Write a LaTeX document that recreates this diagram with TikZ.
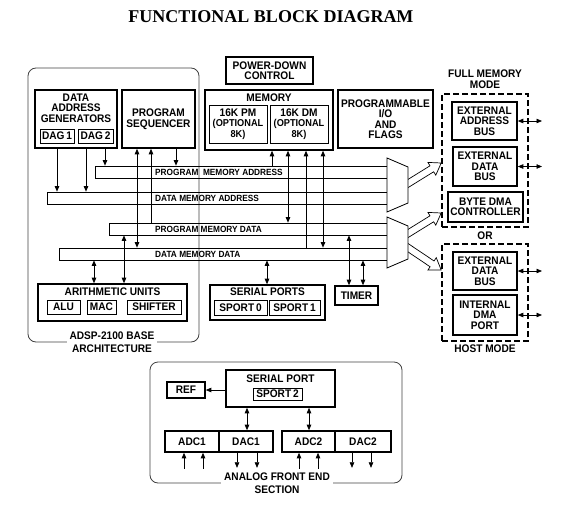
\documentclass[tikz,border=0pt]{standalone}
\usepackage{fontspec}
\setmainfont{Liberation Sans}[FakeStretch=0.92]
\newfontfamily\titlefont{Liberation Serif}
\usetikzlibrary{arrows.meta,calc}

\newcommand{\boxfont}{\fontsize{11}{10.5}\selectfont\bfseries}
\newcommand{\optfont}{\fontsize{10}{10.5}\selectfont\bfseries}
\newcommand{\buslabelfont}{\fontsize{9}{9}\selectfont\bfseries}

% hollow bus arrow from #1 to tip #2
\newcommand{\hollowarrow}[2]{%
  \coordinate (ha-s) at (#1);
  \coordinate (ha-t) at (#2);
  \coordinate (ha-h) at ($(ha-t)!11pt!(ha-s)$);
  \draw[line width=0.7pt, fill=white, line join=miter]
    ($(ha-s)!3.5pt!90:(ha-t)$) -- ($(ha-h)!3.5pt!-90:(ha-s)$) -- ($(ha-h)!7.5pt!-90:(ha-s)$)
    -- (ha-t) -- ($(ha-h)!7.5pt!90:(ha-s)$) -- ($(ha-h)!3.5pt!90:(ha-s)$)
    -- ($(ha-s)!3.5pt!-90:(ha-t)$) -- cycle;}

\tikzset{
  blk/.style={draw, line width=1.6pt, inner sep=0pt, align=center, font=\boxfont},
  sub/.style={draw, line width=0.8pt, inner sep=0pt, align=center, font=\boxfont},
  bus/.style={draw, line width=0.7pt, inner sep=0pt},
  dashbox/.style={draw, line width=1.6pt, dash pattern=on 6pt off 3pt, inner sep=0pt},
  lbl/.style={font=\boxfont, align=center, inner sep=0pt},
  framelbl/.style={font=\fontsize{11}{12.7}\selectfont\bfseries, align=center, fill=white, inner xsep=3pt, inner ysep=0pt},
  buslbl/.style={font=\buslabelfont, anchor=west, inner sep=0pt},
  frame/.style={draw=black!75, line width=0.8pt, rounded corners=8pt},
  mux/.style={draw, line width=0.8pt, fill=white},
  arr/.style={-{Triangle[length=5.5pt,width=4.5pt]}, line width=0.7pt},
  biarr/.style={{Triangle[length=5.5pt,width=4.5pt]}-{Triangle[length=5.5pt,width=4.5pt]}, line width=0.7pt},
}

\begin{document}
\begin{tikzpicture}[x=1pt,y=-1pt]
  \useasboundingbox (0,0) rectangle (568,525);
  %% Title
  \node[font=\fontsize{18}{20}\selectfont\titlefont\bfseries] (title) at (271,16.5) {FUNCTIONAL BLOCK DIAGRAM};

  %% Base architecture frame
  \draw[frame] (28,68) rectangle (199,342);
  \node[framelbl] (baselbl) at (112,342.5) {ADSP-2100 BASE\\ARCHITECTURE};

  %% Top row
  \node[blk, minimum width=82pt, minimum height=58pt] (dag) at (76,119) {};
  \node[lbl] (dagtitle) at (76,108) {DATA\\ADDRESS\\GENERATORS};
  \node[sub, minimum width=34pt, minimum height=14pt] (dag1) at (57,136) {DAG\,1};
  \node[sub, minimum width=35pt, minimum height=14pt] (dag2) at (95.5,136) {DAG\,2};
  \node[blk, minimum width=73pt, minimum height=58pt] (seq) at (158.5,119) {PROGRAM\\SEQUENCER};
  \node[blk, minimum width=87pt, minimum height=27pt] (pdc) at (269.5,70.5) {POWER-DOWN\\CONTROL};
  \node[blk, minimum width=128pt, minimum height=60pt] (mem) at (269,120) {};
  \node[lbl] (memtitle) at (269,98) {MEMORY};
  \node[sub, minimum width=58pt, minimum height=38pt] (pm) at (238,124) {16K PM\\{\optfont(OPTIONAL}\\{\optfont 8K)}};
  \node[sub, minimum width=58pt, minimum height=38pt] (dm) at (299,124) {16K DM\\{\optfont(OPTIONAL}\\{\optfont 8K)}};
  \node[blk, minimum width=95pt, minimum height=58pt] (pio) at (385.5,119) {PROGRAMMABLE\\I/O\\AND\\FLAGS};

  %% Full memory mode
  \node[lbl, font=\fontsize{11}{11}\selectfont\bfseries] (fulllbl) at (485,79.5) {FULL MEMORY\\MODE};
  \node[dashbox, minimum width=86pt, minimum height=133pt] (fullmem) at (485,160.5) {};
  \node[blk, minimum width=65pt, minimum height=38pt] (eab) at (484.5,121) {EXTERNAL\\ADDRESS\\BUS};
  \node[blk, minimum width=64pt, minimum height=39pt] (edb) at (485,166.5) {EXTERNAL\\DATA\\BUS};
  \node[blk, minimum width=75pt, minimum height=30pt] (bdma) at (485.5,207) {BYTE DMA\\CONTROLLER};
  \node[lbl] (orlbl) at (485,236) {OR};

  %% Host mode
  \node[dashbox, minimum width=86pt, minimum height=97pt] (hostmem) at (485,292.5) {};
  \node[lbl] (hostlbl) at (485,349) {HOST MODE};
  \node[blk, minimum width=64pt, minimum height=38pt] (hdb) at (485,271) {EXTERNAL\\DATA\\BUS};
  \node[blk, minimum width=64pt, minimum height=40pt] (idma) at (485,315) {INTERNAL\\DMA\\PORT};

  \foreach \n in {eab,edb,hdb,idma}
    \draw[biarr] (\n.east) -- (\n.east -| 542,0);

  %% Buses
  \node[bus, minimum width=292pt, minimum height=12pt] (pmab) at (241,172) {};
  \node[bus, minimum width=340pt, minimum height=12pt] (dmab) at (217,198) {};
  \node[bus, minimum width=278pt, minimum height=12pt] (pmdb) at (248,229) {};
  \node[bus, minimum width=328pt, minimum height=12pt] (dmdb) at (223,254) {};
  \node[buslbl] (pmalbl) at (155,172) {PROGRAM\ \ MEMORY ADDRESS};
  \node[buslbl] (dmalbl) at (155,198) {DATA MEMORY ADDRESS};
  \node[buslbl] (pmdlbl) at (155,229) {PROGRAM MEMORY DATA};
  \node[buslbl] (dmdlbl) at (155,254) {DATA MEMORY DATA};

  %% Bus outputs
  \hollowarrow{404,186}{fullmem.west |- 0,163}
  \hollowarrow{404,236}{fullmem.west |- 0,213}
  \hollowarrow{404,245}{hostmem.west |- 0,270}
  \draw[mux] (387,158) -- (408,167) -- (408,203) -- (387,212) -- cycle;
  \draw[mux] (387,217) -- (408,226) -- (408,259) -- (387,268) -- cycle;

  %% Lower units
  \node[blk, minimum width=149pt, minimum height=37pt] (arith) at (112.5,302.5) {};
  \node[lbl] (arithtitle) at (112.5,292) {ARITHMETIC UNITS};
  \node[sub, minimum width=33pt, minimum height=14pt] (alu) at (63.5,307) {ALU};
  \node[sub, minimum width=29pt, minimum height=14pt] (mac) at (101.5,307) {MAC};
  \node[sub, minimum width=54pt, minimum height=14pt] (shifter) at (154,307) {SHIFTER};
  \node[blk, minimum width=115pt, minimum height=35pt] (sports) at (267.5,302.5) {};
  \node[lbl] (sportstitle) at (267.5,292) {SERIAL PORTS};
  \node[sub, minimum width=53pt, minimum height=15pt] (sp0) at (240.5,307.5) {SPORT\,0};
  \node[sub, minimum width=51pt, minimum height=15pt] (sp1) at (294.5,307.5) {SPORT\,1};
  \node[blk, minimum width=43pt, minimum height=19pt] (timer) at (356.5,295.5) {TIMER};

  %% Bus connections
  \draw[arr] (57,0 |- dag.south) -- (57,0 |- dmab.north);
  \draw[arr] (86,0 |- dag.south) -- (86,0 |- dmab.north);
  \draw[arr] (105,0 |- dag.south) -- (105,0 |- pmab.north);
  \draw[arr] (176,0 |- seq.south) -- (176,0 |- pmab.north);
  \draw[biarr] (137,0 |- seq.south) -- (137,0 |- dmdb.north);
  \draw[arr] (151,0 |- pmdb.north) -- (151,0 |- seq.south);
  \draw[biarr] (124,0 |- pmdb.south) -- (124,0 |- arith.north);
  \draw[biarr] (94,0 |- dmdb.south) -- (94,0 |- arith.north);
  \draw[arr] (272,0 |- pmab.north) -- (272,0 |- mem.south);
  \draw[biarr] (288,0 |- mem.south) -- (288,0 |- pmdb.north);
  \draw[arr] (306,0 |- dmdb.north) -- (306,0 |- mem.south);
  \draw[biarr] (323,0 |- mem.south) -- (323,0 |- dmdb.north);
  \draw[biarr] (267,0 |- dmdb.south) -- (267,0 |- sports.north);
  \draw[biarr] (349,0 |- pmdb.south) -- (349,0 |- timer.north);
  \draw[biarr] (363,0 |- dmdb.south) -- (363,0 |- timer.north);

  %% Analog front end
  \draw[frame] (150,362) rectangle (402,483);
  \node[framelbl] (afelbl) at (277,483) {ANALOG FRONT END\\SECTION};
  \node[blk, minimum width=109pt, minimum height=37pt] (sport2) at (280.5,388.5) {};
  \node[lbl] (sport2title) at (280.5,379) {SERIAL PORT};
  \node[sub, minimum width=49pt, minimum height=12pt] (sp2) at (277.5,394) {SPORT\,2};
  \node[blk, minimum width=38pt, minimum height=16pt] (ref) at (186,390) {REF};
  \node[blk, minimum width=54pt, minimum height=21pt] (adc1) at (192,441.5) {ADC1};
  \node[blk, minimum width=54pt, minimum height=21pt] (dac1) at (246,441.5) {DAC1};
  \node[blk, minimum width=53pt, minimum height=21pt] (adc2) at (308.5,441.5) {ADC2};
  \node[blk, minimum width=56pt, minimum height=21pt] (dac2) at (363,441.5) {DAC2};

  \draw[arr] (sport2.west |- ref.east) -- (ref.east);
  \draw[biarr] (247,0 |- sport2.south) -- (247,0 |- adc1.north);
  \draw[biarr] (309,0 |- sport2.south) -- (309,0 |- adc2.north);
  \foreach \x in {184,203}
    \draw[arr] ($(\x,0 |- adc1.south)+(0,16)$) -- (\x,0 |- adc1.south);
  \foreach \x in {237,257}
    \draw[arr] (\x,0 |- dac1.south) -- ($(\x,0 |- dac1.south)+(0,15)$);
  \foreach \x in {299,318}
    \draw[arr] ($(\x,0 |- adc2.south)+(0,16)$) -- (\x,0 |- adc2.south);
  \foreach \x in {352,371}
    \draw[arr] (\x,0 |- dac2.south) -- ($(\x,0 |- dac2.south)+(0,15)$);
\end{tikzpicture}
\end{document}
